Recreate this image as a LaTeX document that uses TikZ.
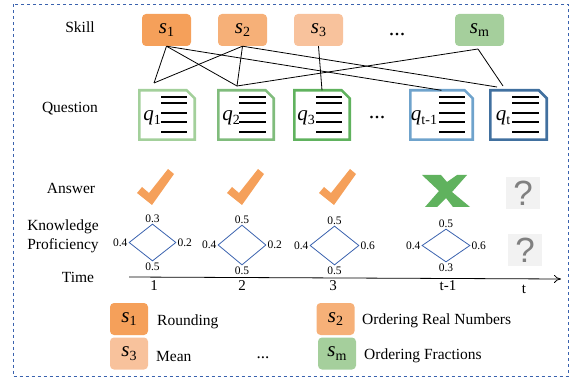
\documentclass[tikz,border=0pt]{standalone}
\usepackage{fontspec}
\setmainfont{Liberation Serif}
\newfontfamily\qmarkfont{Liberation Sans}
\usetikzlibrary{shapes.geometric,arrows.meta}

\definecolor{skillA}{HTML}{F5A05A}
\definecolor{skillB}{HTML}{F6B078}
\definecolor{skillC}{HTML}{F8C29C}
\definecolor{skillM}{HTML}{A5CF9C}
\definecolor{docA}{HTML}{A3D09B}
\definecolor{docB}{HTML}{80BC7C}
\definecolor{docC}{HTML}{60B25E}
\definecolor{docD}{HTML}{6FA3CC}
\definecolor{docE}{HTML}{41709F}
\definecolor{frameblue}{HTML}{3A62AE}
\newcommand{\subvar}[2]{\textit{#1}\raisebox{-.35ex}{\fontsize{14}{14}\selectfont #2}}

\tikzset{
    rowlabel/.style={font=\fontsize{15.5}{19}\selectfont, align=center},
    legendtext/.style={font=\fontsize{15.5}{18}\selectfont, anchor=west, inner sep=0pt},
    skillbox/.style={rectangle, rounded corners=4pt, minimum width=49pt, minimum height=32pt, inner sep=0pt, font=\fontsize{21}{22}\selectfont},
    legendbox/.style={skillbox, minimum width=38pt, rounded corners=4pt},
    docbox/.style={rectangle, inner sep=0pt, outer sep=0pt},
    docedge/.style={line width=2.6pt, line join=miter},
    docline/.style={line width=1.6pt, black},
    link/.style={black, line width=0.8pt},
    kp/.style={diamond, draw=frameblue, line width=0.8pt, inner sep=0pt},
    kpvalue/.style={font=\fontsize{11.5}{12}\selectfont, inner sep=1pt},
    unknown/.style={fill=black!5, minimum width=34pt, minimum height=32pt, inner sep=0pt, text=black!50, font=\qmarkfont\fontsize{35}{35}\selectfont},
    tick/.style={font=\fontsize{15}{16}\selectfont, inner sep=0pt}
}

\begin{document}
\begin{tikzpicture}[x=1pt, y=-1pt]
    \useasboundingbox (0,0) rectangle (572,379);
    % Dashed frame
    \draw[frameblue, dashed, line width=0.7pt] (13,4.5) rectangle (568,376);

    % Row names
    \node[rowlabel] (skilllabel) at (80,27) {Skill};
    \node[rowlabel] (questionlabel) at (70,108.5) {Question};
    \node[rowlabel] (answerlabel) at (71,188.5) {Answer};
    \node[rowlabel] (kplabel) at (63,236) {Knowledge\\Proficiency};
    \node[rowlabel] (timelabel) at (78,277) {Time};

    % Skills
    \node[skillbox, fill=skillA] (s1) at (166.5,30) {\subvar{s}{1}};
    \node[skillbox, fill=skillB] (s2) at (242.5,30) {\subvar{s}{2}};
    \node[skillbox, fill=skillC] (s3) at (318.5,30) {\subvar{s}{3}};
    \node[skillbox, fill=skillM] (sm) at (479.5,30) {\subvar{s}{m}};
    \node[font=\fontsize{22}{22}\selectfont] (sdots) at (397,35) {...};

    % Questions
    \foreach \name/\l/\w/\c/\lab/\lx/\xa/\xb in {q1/138/58/docA/{\subvar{q}{1}}/152/161/187,
        q2/217/58/docB/{\subvar{q}{2}}/231/239/266,
        q3/293/58/docC/{\subvar{q}{3}}/306/316/342,
        qs/409/65/docD/{\subvar{q}{t-1}}/424/439/465,
        qt/489/59/docE/{\subvar{q}{t}}/503/512/539} {
        \node[docbox, minimum width=\w pt-2.6pt, minimum height=49.4pt] (\name) at (\l+\w/2,115) {};
        \draw[docedge, draw=\c] (\name.south west) -- (\name.north west) -- ([xshift=-8pt]\name.north east)
            -- ([yshift=-8pt]\name.north east) -- (\name.south east) -- cycle;
        \node[font=\fontsize{21}{22}\selectfont, inner sep=0pt] (\name text) at (\lx,118) {\lab};
        \foreach \y in {97,103,113,122,132} {
            \draw[docline] (\xa,\y) -- (\xb,\y);
        }
    }
    \node[font=\fontsize{22}{22}\selectfont] (qdots) at (377,118) {...};

    % Links between skills and questions
    \coordinate (q1top) at (154,83);
    \coordinate (q2top) at (237,86);
    \coordinate (qttop) at (497,87);
    \coordinate (qtright) at (503,86);
    \coordinate (smtip) at (478,49);
    \draw[link] (s1.south) -- (q1top);
    \draw[link] (s1.south) -- (q2top);
    \draw[link] (s1.south) -- (qs.north);
    \draw[link] (s2.south) -- (q1top);
    \draw[link] (s2.south) -- (q2top);
    \draw[link] (s2.south) -- (qttop);
    \draw[link] (s3.south) -- (q3.north);
    \draw[link] (smtip) -- (q2top);
    \draw[link] (smtip) -- (qtright);

    % Answers
    \foreach \dx in {0,90,182} {
        \fill[skillA] (168+\dx,169) -- (174+\dx,174) -- (152+\dx,205) -- (137+\dx,193)
            -- (142+\dx,187) -- (149+\dx,193) -- cycle;
    }
    \fill[docC] (422,175) -- (441,175) -- (447,182) -- (457,175) -- (467,175) -- (452,192)
        -- (470,207) -- (453,207) -- (446,198) -- (437,207) -- (425,207) -- (439,191) -- cycle;
    \node[unknown] (answert) at (523,193.5) {?};
    \node[unknown] (kpt) at (525,250) {?};

    % Knowledge proficiency
    \foreach \name/\x/\y/\w/\h/\top/\rgt/\bot in {k1/152.5/242.5/47/37/0.3/0.2/0.5,
        k2/242/245/48/40/0.5/0.2/0.5,
        k3/334.5/245.5/49/39/0.5/0.6/0.5,
        k4/446/245.5/48/33/0.5/0.6/0.3} {
        \node[kp, minimum width=\w pt, minimum height=\h pt,
            label={[kpvalue]left:0.4}, label={[kpvalue]right:\rgt},
            label={[kpvalue]above:\top}, label={[kpvalue]below:\bot}] (\name) at (\x,\y) {};
    }

    % Time axis
    \coordinate (tstart) at (129,277);
    \coordinate (tend) at (561,279);
    \draw[-{To[length=7pt,width=8pt]}, black, line width=0.8pt] (tstart) -- (tend);
    \node[tick] (t1) at (154,286) {1};
    \node[tick] (t2) at (242,286) {2};
    \node[tick] (t3) at (333,286) {3};
    \node[tick] (t4) at (448,286) {t-1};
    \node[tick] (t5) at (524,289) {t};

    % Legend
    \node[legendbox, fill=skillA] (ls1) at (129,319) {\subvar{s}{1}};
    \node[legendbox, fill=skillB] (ls2) at (335.5,319) {\subvar{s}{2}};
    \node[legendbox, fill=skillC] (ls3) at (129,353.5) {\subvar{s}{3}};
    \node[legendbox, fill=skillM] (lsm) at (337,353.5) {\subvar{s}{m}};
    \node[legendtext] (rounding) at (157,322) {Rounding};
    \node[legendtext] (realnumbers) at (362,321) {Ordering Real Numbers};
    \node[legendtext] (meanname) at (156,356) {Mean};
    \node[legendtext] (fractions) at (364,356) {Ordering Fractions};
    \node[font=\fontsize{17}{17}\selectfont] (ldots) at (263,358) {...};
\end{tikzpicture}
\end{document}
